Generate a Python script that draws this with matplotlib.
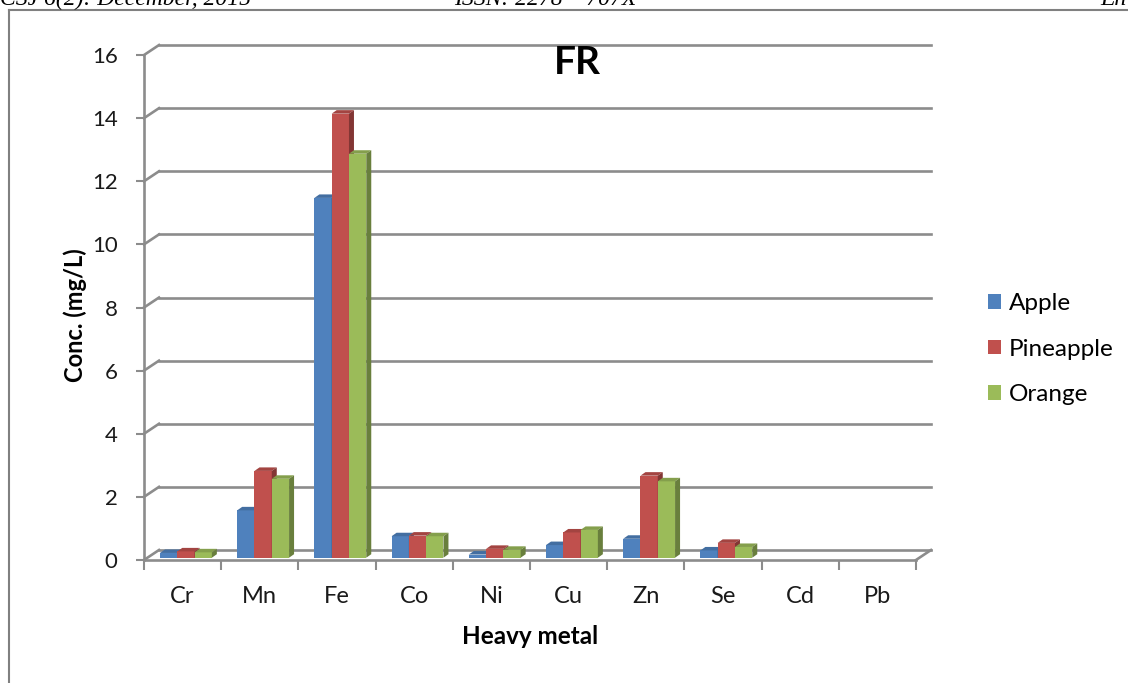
import matplotlib
matplotlib.use('Agg')
import matplotlib.pyplot as plt
from matplotlib.patches import Polygon, Rectangle
from matplotlib.lines import Line2D
from matplotlib.colors import to_rgb

plt.rcParams['font.family'] = ['Lato', 'DejaVu Sans']

# === data ===
metals = ['Cr', 'Mn', 'Fe', 'Co', 'Ni', 'Cu', 'Zn', 'Se', 'Cd', 'Pb']
apple = [0.15, 1.5, 11.4, 0.68, 0.1, 0.4, 0.6, 0.23, 0, 0]
pineapple = [0.2, 2.75, 14.07, 0.7, 0.28, 0.8, 2.6, 0.47, 0, 0]
orange = [0.17, 2.5, 12.8, 0.68, 0.25, 0.88, 2.42, 0.34, 0, 0]
series_names = ['Apple', 'Pineapple', 'Orange']
colors = ['#4F81BD', '#C0504D', '#9BBB59']
yticks = [0, 2, 4, 6, 8, 10, 12, 14, 16]

GRID = '#8C8C8C'


def shade(c, f):
    r, g, b = to_rgb(c)
    return (r * f, g * f, b * f)


W, H = 1128, 683
fig = plt.figure(figsize=(W / 100, H / 100), dpi=100)

# axes: x in category units (0..10 front), y in value units (0..16 front)
px_cat = 77.2
px_val = 31.56
x_right = 10.3
y_top = 16.51
ax = fig.add_axes([144 / W, (H - 560) / H, x_right * px_cat / W, y_top * px_val / H])
ax.set_xlim(0, x_right)
ax.set_ylim(0, y_top)

# depth of the 3d box and of the bars, in data units
DX, DY = 15 / px_cat, 10 / px_val
BDX, BDY = 5 / px_cat, 3.5 / px_val
base = 0.23 * DY
start = 0.207
bw = 0.224

# back wall gridlines + side wall diagonals
for v in yticks:
    ax.plot([DX, 10 + DX], [v + DY, v + DY], color=GRID, lw=1.9, zorder=1, clip_on=False)
    ax.plot([0, DX], [v, v + DY], color=GRID, lw=1.9, zorder=1, clip_on=False)
ax.plot([10, 10 + DX], [0, DY], color=GRID, lw=1.9, zorder=1, clip_on=False)

# bars
for j, (vals, c) in enumerate(zip([apple, pineapple, orange], colors)):
    xs = [i + start + j * bw for i in range(len(metals))]
    z = 3 + j
    ax.bar(xs, vals, width=bw, bottom=base, align='edge', color=c, zorder=z, linewidth=0)
    for x0, v in zip(xs, vals):
        if v <= 0:
            continue
        top = base + v
        ax.add_patch(Polygon([(x0, top), (x0 + bw, top), (x0 + bw + BDX, top + BDY), (x0 + BDX, top + BDY)],
                             closed=True, facecolor=shade(c, 0.85), edgecolor='none', zorder=z))
        ax.add_patch(Polygon([(x0 + bw, base), (x0 + bw + BDX, base + BDY), (x0 + bw + BDX, top + BDY), (x0 + bw, top)],
                             closed=True, facecolor=shade(c, 0.68), edgecolor='none', zorder=z))

# axes styling
for s in ['top', 'right']:
    ax.spines[s].set_visible(False)
for s in ['left', 'bottom']:
    ax.spines[s].set_color(GRID)
    ax.spines[s].set_linewidth(1.9)
    ax.spines[s].set_zorder(2)
ax.spines['left'].set_bounds(0, 16)
ax.spines['bottom'].set_bounds(0, 10)

ax.set_yticks(yticks)
ax.set_yticklabels([str(v) for v in yticks])
ax.tick_params(axis='y', direction='out', length=6, width=1.5, color=GRID, pad=13, labelsize=16, labelcolor='#1a1a1a')

ax.set_xticks(range(len(metals) + 1))
ax.set_xticklabels([])
ax.tick_params(axis='x', which='major', direction='out', length=7.5, width=1.5, color=GRID)
ax.set_xticks([i + 0.5 for i in range(len(metals))], minor=True)
ax.set_xticklabels(metals, minor=True)
ax.tick_params(axis='x', which='minor', length=0, pad=19, labelsize=17, labelcolor='#1a1a1a')
ax.patch.set_visible(False)

# texts
fig.text(577 / W, 1 - 62 / H, 'FR', fontsize=28, fontweight='bold', ha='center', va='center')
fig.text(75 / W, 1 - 315 / H, 'Conc. (mg/L)', fontsize=17, fontweight='bold', rotation=90,
         ha='center', va='center')
fig.text(530 / W, 1 - 636 / H, 'Heavy metal', fontsize=17.5, fontweight='bold', ha='center', va='center')

# legend
handles = [Rectangle((0, 0), 1, 1, facecolor=c, edgecolor='none') for c in colors]
fig.legend(handles, series_names, loc='center left', bbox_to_anchor=(966 / W, 1 - 349 / H),
           frameon=False, fontsize=17.5, handlelength=0.55, handleheight=0.55,
           handletextpad=0.3, labelspacing=1.0)

# page frame and cut-off header
fig.add_artist(Line2D([9 / W, 1], [1 - 10 / H, 1 - 10 / H], color='#808080', lw=1.5))
fig.add_artist(Line2D([9 / W, 9 / W], [1 - 10 / H, 0], color='#808080', lw=1.5))
hdr = dict(family=['Liberation Serif', 'DejaVu Serif'], fontsize=17, style='italic', va='baseline')
fig.text(0, 1 - 5 / H, 'CSJ 6(2): December, 2015', ha='left', **hdr)
fig.text(545 / W, 1 - 5 / H, 'ISSN: 2278 \u2013 707X', ha='center', **hdr)
fig.text(1100 / W, 1 - 5 / H, 'En', ha='left', **hdr)

fig.savefig('out.png', dpi=100)
